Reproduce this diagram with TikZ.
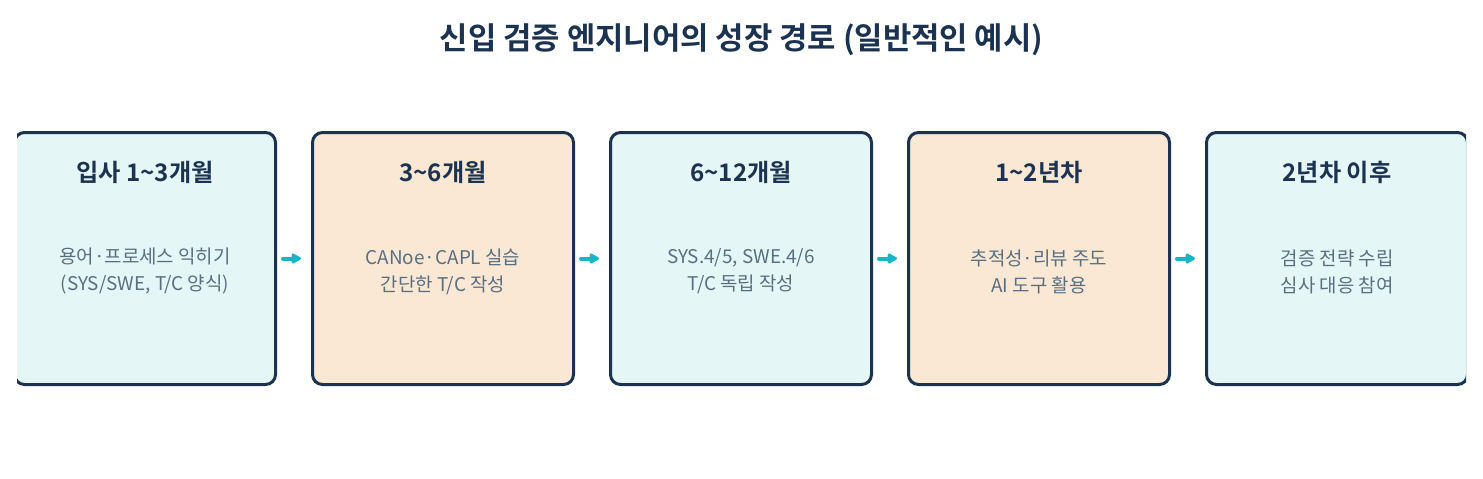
\documentclass[tikz,border=0pt]{standalone}
\usepackage{fontspec}
\setmainfont{Noto Sans CJK KR}[BoldFont={Noto Sans CJK KR Bold}]
\usetikzlibrary{arrows.meta}
\definecolor{navy}{HTML}{1B3350}
\definecolor{cyanfill}{HTML}{E5F6F7}
\definecolor{peachfill}{HTML}{FAE8D4}
\definecolor{bodygray}{HTML}{5B6E80}
\definecolor{arrowc}{HTML}{17B5C6}
\begin{document}
\begin{tikzpicture}[x=1pt,y=-1pt,
  stagebox/.style={draw=navy, line width=3pt, rounded corners=10pt,
    minimum width=261pt, minimum height=252pt, inner sep=0pt},
  stagetitle/.style={text=navy, font=\bfseries\fontsize{24.2}{28}\selectfont, inner sep=0pt},
  stagebody/.style={text=bodygray, font=\fontsize{18.9}{27}\selectfont, align=center, inner sep=0pt},
  flowarrow/.style={draw=arrowc, line width=4pt, line cap=round,
    -{Triangle[length=11pt,width=11pt,round]}, shorten <=6pt, shorten >=10pt},
  maintitle/.style={text=navy, font=\bfseries\fontsize{30.8}{34}\selectfont, inner sep=0pt}
]
\useasboundingbox (0,0) rectangle (1483,479);
\node[maintitle] (title) at (741.5,40) {신입 검증 엔지니어의 성장 경로 (일반적인 예시)};
\begin{scope}
\clip (17,0) rectangle (1466,479);
\node[stagebox, fill=cyanfill]  (b1) at (145,258.5) {};
\node[stagebox, fill=peachfill] (b2) at (443,258.5) {};
\node[stagebox, fill=cyanfill]  (b3) at (741,258.5) {};
\node[stagebox, fill=peachfill] (b4) at (1039,258.5) {};
\node[stagebox, fill=cyanfill]  (b5) at (1337,258.5) {};
\end{scope}
\node[stagetitle] (t1) at (145,172) {입사 1\textasciitilde3개월};
\node[stagetitle] (t2) at (443,172) {3\textasciitilde6개월};
\node[stagetitle] (t3) at (741,172) {6\textasciitilde12개월};
\node[stagetitle] (t4) at (1039,172) {1\textasciitilde2년차};
\node[stagetitle] (t5) at (1337,172) {2년차 이후};
\node[stagebody] (d1) at (145,271.5) {용어·프로세스 익히기\\(SYS/SWE, T/C 양식)};
\node[stagebody] (d2) at (443,271.5) {CANoe·CAPL 실습\\간단한 T/C 작성};
\node[stagebody] (d3) at (741,271.5) {SYS.4/5, SWE.4/6\\T/C 독립 작성};
\node[stagebody] (d4) at (1039,271.5) {추적성·리뷰 주도\\AI 도구 활용};
\node[stagebody] (d5) at (1337,271.5) {검증 전략 수립\\심사 대응 참여};
\draw[flowarrow] (b1.east) -- (b2.west);
\draw[flowarrow] (b2.east) -- (b3.west);
\draw[flowarrow] (b3.east) -- (b4.west);
\draw[flowarrow] (b4.east) -- (b5.west);
\end{tikzpicture}
\end{document}
